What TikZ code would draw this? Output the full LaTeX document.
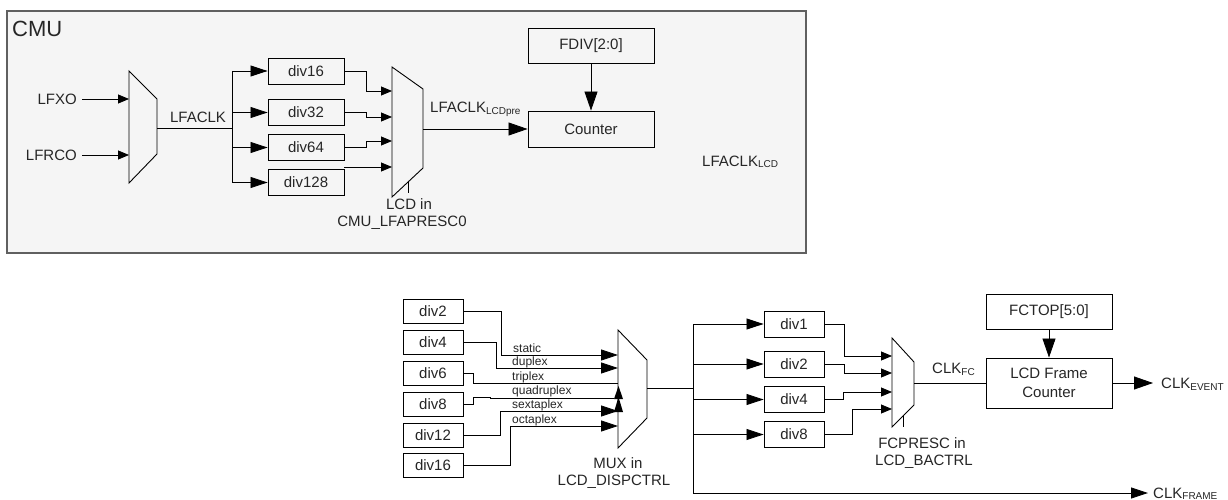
\documentclass[tikz,border=0pt]{standalone}
\usepackage{fontspec}
\setmainfont{Liberation Sans}
\usetikzlibrary{arrows.meta}
\newcommand\fsz[1]{\fontsize{#1}{#1}\selectfont}
\newcommand\subt[1]{\raisebox{-1.5pt}{\fsz{10}#1}}
\begin{document}
\begin{tikzpicture}[x=1pt,y=-1pt,
  every node/.style={font=\fsz{15}, inner sep=0pt, text=black!85},
  blk/.style={draw, line width=0.9pt, inner sep=0pt, font=\fsz{15}},
  wire/.style={line width=0.8pt},
  arrS/.style={wire, -{Triangle[length=11pt,width=9pt]}},
  arrL/.style={wire, -{Triangle[length=17pt,width=11pt]}},
  arrX/.style={wire, -{Triangle[length=19pt,width=13pt]}},
  muxs/.style={draw, line width=0.9pt},
  sml/.style={font=\fsz{12}, anchor=base west},
  tick/.style={wire}
]
\useasboundingbox (0,0) rectangle (1228,500);
\fill[white] (0,0) rectangle (1228,500);
% ---------- CMU ----------
\draw[fill=gray!8, draw=gray!75!black, line width=1.3pt] (7,11) rectangle (806,253);
\node[anchor=west, font=\fsz{22}] (cmu) at (12,29) {CMU};
\node[anchor=east] (lfxo) at (77,99) {LFXO};
\node[anchor=east] (lfrco) at (77,155) {LFRCO};
\coordinate (m1tl) at (129,71);
\coordinate (m1tr) at (157,99);
\coordinate (m1br) at (157,154);
\coordinate (m1bl) at (129,183);
\draw[muxs] (m1tl)--(m1tr)--(m1br)--(m1bl)--cycle;
\draw[arrS] ([xshift=5pt]lfxo.east) -- (lfxo.east -| m1tl);
\draw[arrS] ([xshift=5pt]lfrco.east) -- (lfrco.east -| m1tl);
\coordinate (m1out) at (157,128);
\coordinate (b1t) at (232,71);
\coordinate (b1b) at (232,183);
\draw[wire] (m1out) -- (m1out -| b1t);
\node[anchor=base] (lfaclk) at (198,123) {LFACLK};
\draw[wire] (b1t) -- (b1b);
\node[blk, minimum width=76pt, minimum height=26pt] (d16) at (306,71) {div16};
\node[blk, minimum width=76pt, minimum height=26pt] (d32) at (306,112.5) {div32};
\node[blk, minimum width=76pt, minimum height=26pt] (d64) at (306,147.5) {div64};
\node[blk, minimum width=76pt, minimum height=26pt] (d128) at (306,182.5) {div128};
\draw[arrL] (d16.west -| b1t) -- (d16.west);
\draw[arrL] (d32.west -| b1t) -- (d32.west);
\draw[arrL] (d64.west -| b1t) -- (d64.west);
\draw[arrL] (d128.west -| b1t) -- (d128.west);
% mux2
\coordinate (m2tl) at (392,67);
\coordinate (m2tr) at (423,89);
\coordinate (m2br) at (423,168);
\coordinate (m2bl) at (392,197);
\draw[muxs] (m2tl)--(m2tr)--(m2br)--(m2bl)--cycle;
\coordinate (m2i1) at (392,91);
\coordinate (m2i2) at (392,117);
\coordinate (m2i3) at (392,141);
\coordinate (m2i4) at (392,167);
\draw[arrS] (d16.east) -- ++(22,0) |- (m2i1);
\draw[arrS] (d32.east) -- ++(22,0) |- (m2i2);
\draw[arrS] (d64.east) -- ++(22,0) |- (m2i3);
\draw[arrS] (d128.east |- m2i4) -- (m2i4);
\draw[tick] (408,181) -- (408,193);
\node (lcdin) at (409,204) {LCD in};
\node (cmulfa) at (402,223) {CMU\_LFAPRESC0};
\node[blk, minimum width=126pt, minimum height=35pt] (fdiv) at (591,45.5) {FDIV[2:0]};
\node[blk, minimum width=126pt, minimum height=36pt] (cnt) at (591,129) {Counter};
\coordinate (m2out) at (423,129);
\draw[arrX] (m2out) -- (cnt.west);
\node[anchor=base west] (lcdpre) at (430,113) {LFACLK\subt{LCDpre}};
\draw[arrX] (fdiv.south) -- (cnt.north);
\node[anchor=base west] (lcdclk) at (702,166) {LFACLK\subt{LCD}};
% ---------- LCD part ----------
\foreach \n/\t/\y in {a2/div2/311, a4/div4/342, a6/div6/373, a8/div8/404, a12/div12/435, a16/div16/465}{
  \node[blk, minimum width=60pt, minimum height=24pt] (\n) at (433,\y) {\t};
}
\coordinate (m3tl) at (618,330);
\coordinate (m3tr) at (647,360);
\coordinate (m3br) at (647,418);
\coordinate (m3bl) at (618,448);
\draw[muxs] (m3tl)--(m3tr)--(m3br)--(m3bl)--cycle;
\coordinate (i1) at (618,355);
\coordinate (i2) at (618,368);
\coordinate (i3) at (618,383);
\coordinate (i4) at (614,398);
\coordinate (i5) at (618,411);
\coordinate (i6) at (618,426);
\draw[arrL] (a2.east) -- ++(38,0) |- (i1);
\draw[arrL] (a4.east) -- ++(33,0) |- (i2);
\draw[wire] (a6.east) -- ++(10,0) |- (i3);
\draw[wire] (a8.east) -- ++(10,0) -- ++(0,-7) -- ++(17,0) -- ++(0,1) -- (i4);
\draw[arrL] (a12.east) -- ++(37,0) |- (i5);
\draw[arrL] (a16.east) -- ++(47,0) |- (i6);
\fill (614,399) -- (618.5,386) -- (623,399) -- cycle;
\fill (614,412) -- (618.5,397) -- (623,412) -- cycle;
\node[sml] (ls) at (513,352) {static};
\node[sml] (ld) at (512,365) {duplex};
\node[sml] (lt) at (512,380) {triplex};
\node[sml] (lq) at (512,394) {quadruplex};
\node[sml] (lse) at (512,408) {sextaplex};
\node[sml] (lo) at (512,423) {octaplex};
\node (muxin) at (618,463) {MUX in};
\node (dispctrl) at (614,482) {LCD\_DISPCTRL};
\coordinate (m3out) at (647,388);
\coordinate (b2t) at (693,324);
\coordinate (b2b) at (693,493);
\draw[wire] (m3out) -- (m3out -| b2t);
\draw[wire] (b2t) -- (b2b);
\node[blk, minimum width=60pt, minimum height=26pt] (b1) at (794,324) {div1};
\node[blk, minimum width=60pt, minimum height=26pt] (b2) at (794,364) {div2};
\node[blk, minimum width=60pt, minimum height=26pt] (b4) at (794,399.5) {div4};
\node[blk, minimum width=60pt, minimum height=26pt] (b8) at (794,434.5) {div8};
\draw[arrL] (b1.west -| b2t) -- (b1.west);
\draw[arrL] (b2.west -| b2t) -- (b2.west);
\draw[arrL] (b4.west -| b2t) -- (b4.west);
\draw[arrL] (b8.west -| b2t) -- (b8.west);
\coordinate (m4tl) at (892,338);
\coordinate (m4tr) at (914,362);
\coordinate (m4br) at (914,405);
\coordinate (m4bl) at (892,427);
\draw[muxs] (m4tl)--(m4tr)--(m4br)--(m4bl)--cycle;
\coordinate (j1) at (892,356);
\coordinate (j2) at (892,373);
\coordinate (j3) at (892,392);
\coordinate (j4) at (892,409);
\draw[arrS] (b1.east) -- ++(20,0) |- (j1);
\draw[arrS] (b2.east) -- ++(20,0) |- (j2);
\draw[arrS] (b4.east) -- ++(19,0) |- (j3);
\draw[arrS] (b8.east) -- ++(28,0) |- (j4);
\draw[tick] (903,416) -- (903,427);
\node (fcpresc) at (922,443) {FCPRESC in};
\node (bactrl) at (924,462) {LCD\_BACTRL};
\node[blk, minimum width=126pt, minimum height=35pt] (fctop) at (1049,311.5) {FCTOP[5:0]};
\node[blk, minimum width=126pt, minimum height=50pt, align=center, font=\fontsize{15}{19}\selectfont] (fc) at (1049,383) {LCD Frame\\Counter};
\draw[arrX] (fctop.south) -- (fc.north);
\coordinate (m4out) at (914,383);
\draw[wire] (m4out) -- (fc.west);
\node[anchor=base west] (clkfc) at (932,373.5) {CLK\subt{FC}};
\coordinate (evt) at (1153,383);
\draw[arrX] (fc.east) -- (evt);
\node[anchor=base west] (clkevt) at (1161,388.5) {CLK\subt{EVENT}};
\coordinate (frm) at (1148,493);
\draw[arrL] (b2b) -- (frm);
\node[anchor=base west] (clkfrm) at (1153,498) {CLK\subt{FRAME}};
\end{tikzpicture}
\end{document}
